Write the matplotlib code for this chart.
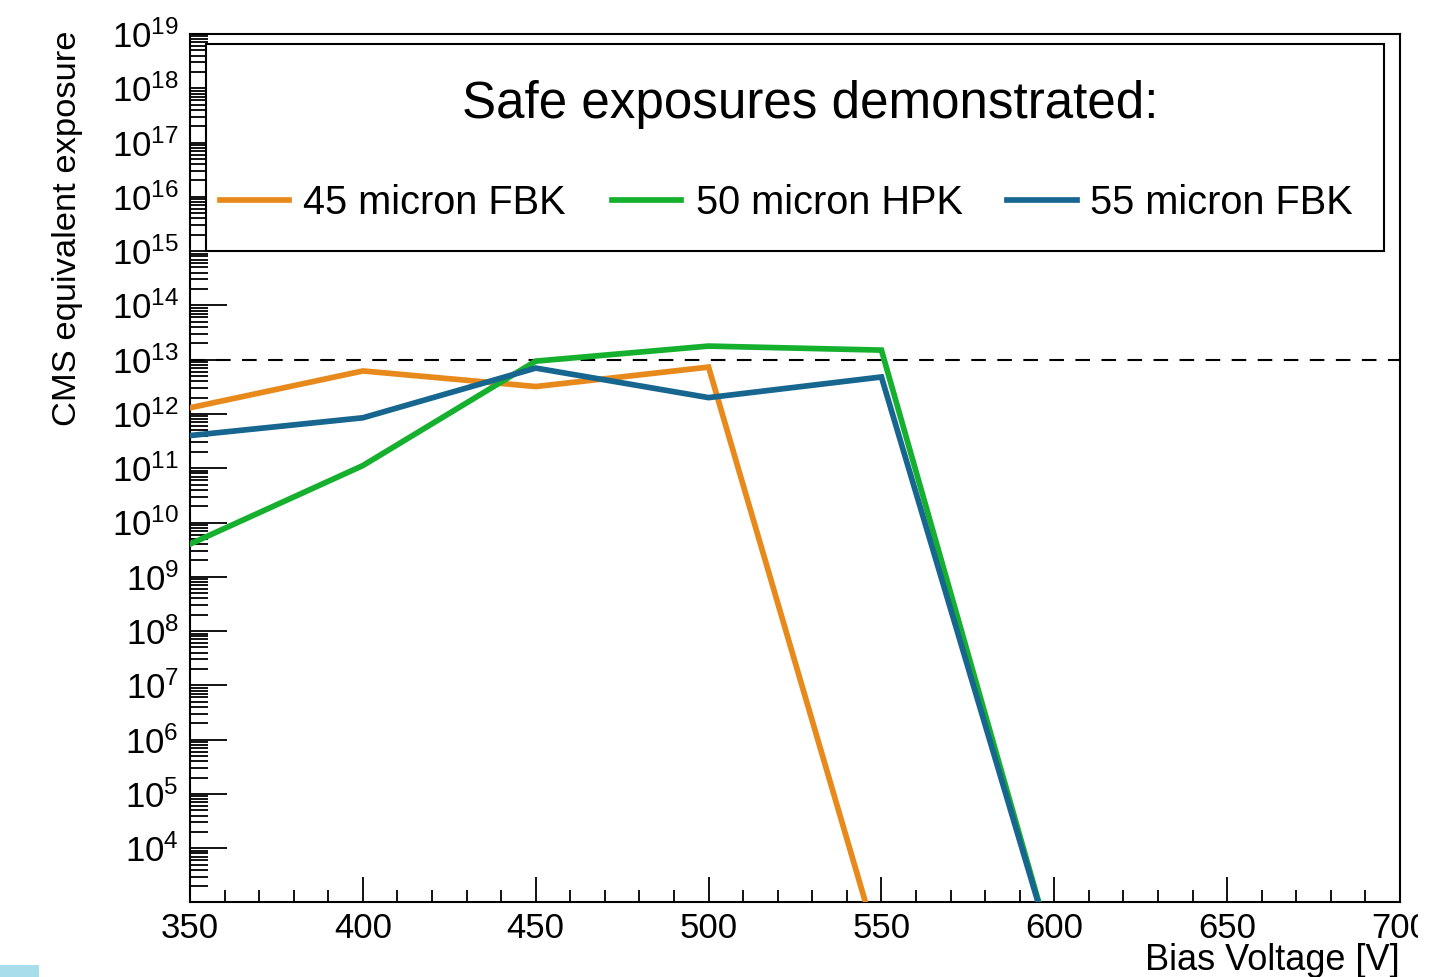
import numpy as np
import matplotlib
matplotlib.use("Agg")
import matplotlib.pyplot as plt
from matplotlib.ticker import LogLocator, FixedLocator, MultipleLocator, NullFormatter
from matplotlib.lines import Line2D
from matplotlib.patches import Rectangle

plt.rcParams["font.family"] = ["Liberation Sans", "DejaVu Sans"]
plt.rcParams["mathtext.fontset"] = "custom"
plt.rcParams["mathtext.rm"] = "Liberation Sans"
plt.rcParams["mathtext.it"] = "Liberation Sans:italic"
plt.rcParams["mathtext.bf"] = "Liberation Sans:bold"

# Safe exposure vs. bias voltage for each sensor type
series_names = ["45 micron FBK", "50 micron HPK", "55 micron FBK"]
series_colors = ["#E8891C", "#14B02E", "#17668F"]
voltage_45 = [350, 400, 450, 500, 550]
exposure_45 = [1.3e12, 6.2e12, 3.2e12, 7.3e12, 1.0e2]
voltage_50 = [350, 400, 450, 500, 550, 600]
exposure_50 = [4.0e9, 1.12e11, 9.4e12, 1.78e13, 1.5e13, 1.0e2]
voltage_55 = [350, 400, 450, 500, 550, 600]
exposure_55 = [4.0e11, 8.5e11, 7.0e12, 2.0e12, 4.8e12, 1.0e2]
cms_reference = 1e13
labelled_decades = np.arange(4, 20)

W, H = 1429, 977
fig = plt.figure(figsize=(W / 100, H / 100), dpi=100)


def fx(x):
    return x / W


def fy(y):
    return 1 - y / H


ax = fig.add_axes([fx(190), fy(902), fx(1400) - fx(190), fy(34) - fy(902)])

xs = [voltage_45, voltage_50, voltage_55]
ys = [exposure_45, exposure_50, exposure_55]
for v, e, c in zip(xs, ys, series_colors):
    ax.plot(v, e, color=c, lw=4.1, solid_joinstyle="miter", zorder=3)

ax.axhline(cms_reference, color="black", lw=1.5, dashes=(7, 5.5), zorder=2)

ax.set_yscale("log")
ax.set_xlim(350, 700)
ax.set_ylim(1.02e3, 1e19)

ax.yaxis.set_major_locator(FixedLocator(10.0 ** labelled_decades))
ax.yaxis.set_minor_locator(LogLocator(base=10, subs=np.arange(2, 10), numticks=400))
ax.yaxis.set_minor_formatter(NullFormatter())
ax.xaxis.set_major_locator(MultipleLocator(50))
ax.xaxis.set_minor_locator(MultipleLocator(10))

ax.tick_params(axis="y", which="major", direction="in", length=26.5, width=1.3,
               labelsize=25, pad=8, right=False)
ax.tick_params(axis="y", which="minor", direction="in", length=13, width=1.3, right=False)
ax.tick_params(axis="x", which="major", direction="in", length=18, width=1.3,
               labelsize=25, pad=7, top=False)
ax.tick_params(axis="x", which="minor", direction="in", length=8.6, width=1.3, top=False)
for s in ax.spines.values():
    s.set_linewidth(1.5)

# Axis titles
fig.text(fx(1400), fy(970), "Bias Voltage [V]", ha="right", va="baseline", fontsize=26)
fig.text(fx(68), fy(30), "CMS equivalent exposure", rotation=90, ha="center", va="top",
         fontsize=24.8)

# Legend box
fig.patches.append(Rectangle((fx(205.7), fy(250.7)), fx(1384) - fx(205.7), fy(44) - fy(250.7),
                             transform=fig.transFigure, fill=True, facecolor="white",
                             edgecolor="black", lw=1.5, zorder=5))
fig.text(fx(810), fy(118), "Safe exposures demonstrated:", ha="center", va="baseline",
         fontsize=36.8, zorder=6)
line_x = [(220, 289), (612, 681), (1007, 1077)]
text_x = [303, 696, 1090]
for (x0, x1), tx, name, c in zip(line_x, text_x, series_names, series_colors):
    fig.lines.append(Line2D([fx(x0), fx(x1)], [fy(200), fy(200)], transform=fig.transFigure,
                            color=c, lw=4.1, zorder=6))
    fig.text(fx(tx), fy(214), name, ha="left", va="baseline", fontsize=28.6, zorder=6)

# canvas trimmed at the right edge below the axis
fig.patches.append(Rectangle((fx(1418), 0), 1 - fx(1418), fy(904), transform=fig.transFigure,
                             facecolor="white", edgecolor="none", zorder=20))

# small swatch at lower-left corner
fig.patches.append(Rectangle((0, 0), fx(39), 1 - fy(12), transform=fig.transFigure,
                             facecolor="#A8DEEC", edgecolor="none"))

fig.savefig("out.png", dpi=100)
